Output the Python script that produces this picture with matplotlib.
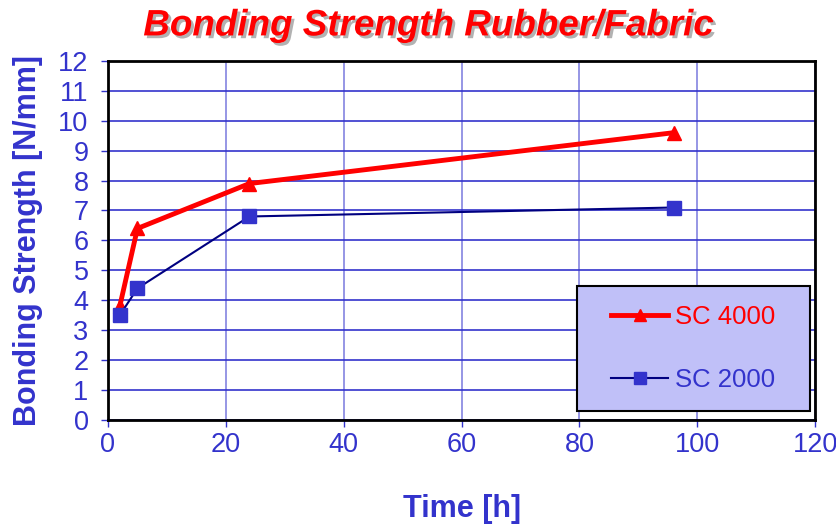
import matplotlib.pyplot as plt
import matplotlib.patheffects as pe
from matplotlib.patches import Rectangle

time_h = [2, 5, 24, 96]
sc4000 = [3.8, 6.4, 7.9, 9.6]
sc2000 = [3.5, 4.4, 6.8, 7.1]

blue = '#3333cc'
plt.rcParams['font.family'] = ['Liberation Sans', 'DejaVu Sans']

fig = plt.figure(figsize=(8.37, 5.29), dpi=100)
ax = fig.add_axes([0.129, 0.206, 0.845, 0.679])

l1, = ax.plot(time_h, sc4000, color='red', lw=3.5, marker='^', ms=10,
              label='SC 4000', zorder=3)
l2, = ax.plot(time_h, sc2000, color='#000080', lw=1.5, marker='s', ms=10,
              mfc=blue, mec=blue, label='SC 2000', zorder=3)

ax.set_xlim(0, 120)
ax.set_ylim(0, 12)
ax.set_xticks(range(0, 121, 20))
ax.set_yticks(range(0, 13))
ax.grid(True, axis='y', color=blue, lw=1.2)
ax.grid(True, axis='x', color=blue, lw=1.2, alpha=0.6)
ax.set_axisbelow(True)
for s in ax.spines.values():
    s.set_color('black')
    s.set_linewidth(2)
ax.tick_params(colors=blue, labelsize=19.5, length=5, width=1)
ax.tick_params(axis='x', pad=3.5)
ax.tick_params(axis='y', pad=9)

ax.set_xlabel('Time [h]', fontsize=22, fontweight='bold', color=blue, labelpad=26)
ax.set_ylabel('Bonding Strength [N/mm]', fontsize=22, fontweight='bold', color=blue, labelpad=11)

fig.text(0.512, 0.951, 'Bonding Strength Rubber/Fabric', ha='center', va='center',
         fontsize=26.5, fontweight='bold', fontstyle='italic', color='red',
         path_effects=[pe.withSimplePatchShadow(offset=(2, -2), shadow_rgbFace='gray', alpha=0.6)])

# legend box
bx, by, bw, bh = 577 / 837, 1 - 411 / 529, 233 / 837, 125 / 529
fig.patches.append(Rectangle((bx, by), bw, bh, transform=fig.transFigure,
                             facecolor='#c0c0f8', edgecolor='black', lw=1.5, zorder=5))
leg = fig.legend(handles=[l1, l2], loc='center', bbox_to_anchor=(bx + bw / 2, by + bh / 2),
                 fontsize=18.5, frameon=False, labelspacing=1.5, handlelength=2.2,
                 handletextpad=0.3, markerscale=0.8)
leg.set_zorder(6)
leg.get_texts()[0].set_color('red')
leg.get_texts()[1].set_color(blue)

fig.savefig('out.png', dpi=100)
